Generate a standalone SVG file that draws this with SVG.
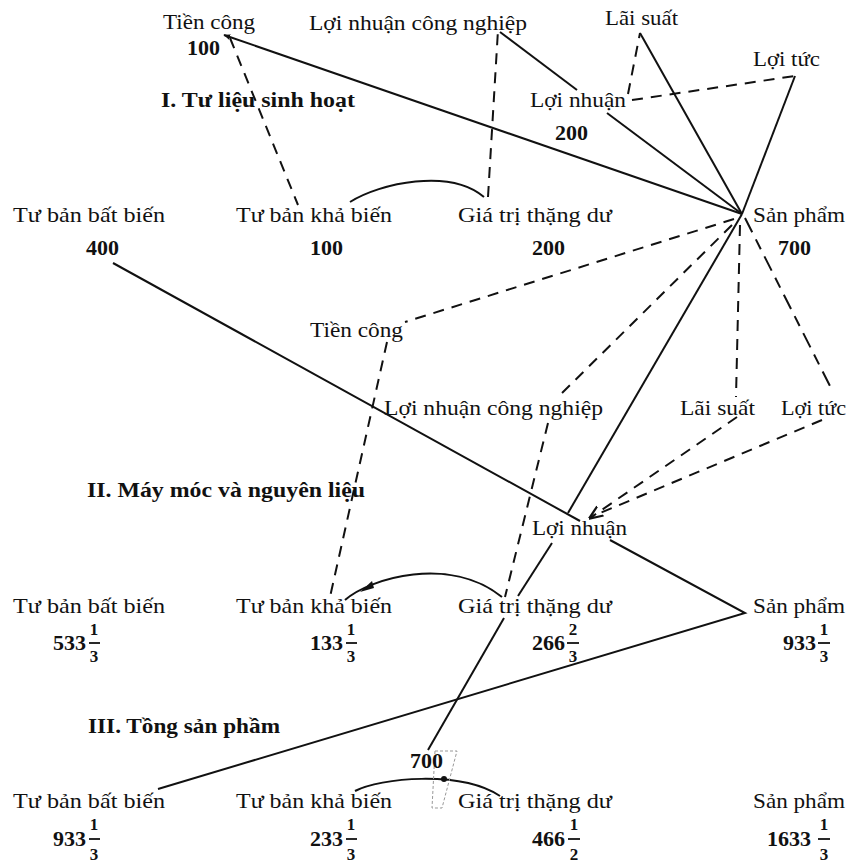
<svg xmlns="http://www.w3.org/2000/svg" width="847" height="867" viewBox="0 0 847 867">
<style>
  text { font-family: "Liberation Serif", "Times New Roman", serif; fill: #111; }
  .lbl { font-size: 22px; }
  .ttl { font-size: 22px; font-weight: bold; }
  .num { font-size: 22px; font-weight: bold; }
  .frac { font-size: 17px; font-weight: bold; text-anchor: middle; }
  .bar { stroke: #111; stroke-width: 1.8; }
  .ln { fill: none; stroke: #111; stroke-width: 2; }
  .dash { fill: none; stroke: #111; stroke-width: 2; stroke-dasharray: 11 8; }
</style>
<defs>
  <marker id="arr" viewBox="0 0 10 10" refX="9" refY="5" markerWidth="7" markerHeight="7" orient="auto" markerUnits="userSpaceOnUse">
    <path d="M0,1 L10,5 L0,9 z" fill="#111"/>
  </marker>
  <marker id="arr2" viewBox="0 0 10 10" refX="9" refY="5" markerWidth="14" markerHeight="14" orient="auto" markerUnits="userSpaceOnUse">
    <path d="M0,1 L10,5 L0,9" fill="none" stroke="#111" stroke-width="1.6"/>
  </marker>
</defs>
<rect width="847" height="867" fill="#fff"/>

<g id="connectors">
  <!-- Section I solid -->
  <path class="ln" d="M742,214 L224,35" marker-end="url(#arr)"/>
  <path class="ln" d="M500,32 L577,90"/>
  <path class="ln" d="M640,33 L742,214"/>
  <path class="ln" d="M795,76 L742,214"/>
  <path class="ln" d="M607,113 L742,214"/>
  <path class="ln" d="M350,202 C380,183 450,168 484,197"/>
  <!-- Section I dashed -->
  <path class="dash" d="M230,38 L298,205"/>
  <path class="dash" d="M488,197 L498,30"/>
  <path class="dash" d="M628,94 L640,33"/>
  <path class="dash" d="M632,100 L795,76"/>
  <!-- hub to section II -->
  <path class="dash" d="M734,219 L405,322"/>
  <path class="dash" d="M732,225 L557,398"/>
  <path class="ln" d="M742,214 L568,513"/>
  <path class="dash" d="M740,225 L736,397"/>
  <path class="dash" style="stroke-dasharray: 16 8 11 8" d="M745,218 L832,390"/>
  <!-- Section II -->
  <path class="ln" d="M113,263 L580,521"/>
  <path class="dash" d="M387,342 L330,597"/>
  <path class="dash" d="M548,423 L505,597"/>
  <path class="dash" d="M737,417 L590,518" marker-end="url(#arr2)"/>
  <path class="dash" d="M822,420 L593,516"/>
  <path class="ln" d="M345,600 C370,578 450,555 502,597"/>
  <polygon points="360,592 372,581 374,588" fill="#111"/>
  <path class="ln" d="M552,543 L518,596"/>
  <path class="ln" d="M504,618 L428,750"/>
  <path class="ln" d="M610,540 L745,613 L158,789"/>
  <!-- Section III -->
  <path class="ln" d="M355,791 C380,778 460,770 500,796"/>
  <path d="M435,751 L457,751 L442,808 L432,808 Z" fill="none" stroke="#999" stroke-width="1" stroke-dasharray="3 2"/>
  <circle cx="444" cy="779" r="3" fill="#111"/>
</g>

<!-- Section I -->
<g id="tien-cong-1">
  <text class="lbl" x="163" y="29" textLength="92" lengthAdjust="spacingAndGlyphs">Tiền công</text>
  <text class="num" x="187" y="55">100</text>
</g>
<g id="loi-nhuan-cong-nghiep-1">
  <text class="lbl" x="309" y="30" textLength="218" lengthAdjust="spacingAndGlyphs">Lợi nhuận công nghiệp</text>
</g>
<g id="lai-suat-1">
  <text class="lbl" x="605" y="25" textLength="73" lengthAdjust="spacingAndGlyphs">Lãi suất</text>
</g>
<g id="loi-tuc-1">
  <text class="lbl" x="753" y="66" textLength="67" lengthAdjust="spacingAndGlyphs">Lợi tức</text>
</g>
<g id="title-1">
  <text class="ttl" x="161" y="107" textLength="194" lengthAdjust="spacingAndGlyphs">I. Tư liệu sinh hoạt</text>
</g>
<g id="loi-nhuan-1">
  <text class="lbl" x="530" y="107" textLength="96" lengthAdjust="spacingAndGlyphs">Lợi nhuận</text>
  <text class="num" x="555" y="140">200</text>
</g>
<g id="tbbb-1">
  <text class="lbl" x="13" y="222" textLength="152" lengthAdjust="spacingAndGlyphs">Tư bản bất biến</text>
  <text class="num" x="86" y="255">400</text>
</g>
<g id="tbkb-1">
  <text class="lbl" x="236" y="222" textLength="156" lengthAdjust="spacingAndGlyphs">Tư bản khả biến</text>
  <text class="num" x="310" y="255">100</text>
</g>
<g id="gttd-1">
  <text class="lbl" x="458" y="222" textLength="154" lengthAdjust="spacingAndGlyphs">Giá trị thặng dư</text>
  <text class="num" x="532" y="255">200</text>
</g>
<g id="san-pham-1">
  <text class="lbl" x="753" y="222" textLength="92" lengthAdjust="spacingAndGlyphs">Sản phẩm</text>
  <text class="num" x="778" y="255">700</text>
</g>

<!-- Section II -->
<g id="tien-cong-2">
  <text class="lbl" x="310" y="337" textLength="93" lengthAdjust="spacingAndGlyphs">Tiền công</text>
</g>
<g id="loi-nhuan-cong-nghiep-2">
  <text class="lbl" x="384" y="415" textLength="219" lengthAdjust="spacingAndGlyphs">Lợi nhuận công nghiệp</text>
</g>
<g id="lai-suat-2">
  <text class="lbl" x="680" y="415" textLength="75" lengthAdjust="spacingAndGlyphs">Lãi suất</text>
</g>
<g id="loi-tuc-2">
  <text class="lbl" x="781" y="415" textLength="65" lengthAdjust="spacingAndGlyphs">Lợi tức</text>
</g>
<g id="title-2">
  <text class="ttl" x="87" y="497" textLength="278" lengthAdjust="spacingAndGlyphs">II. Máy móc và nguyên liệu</text>
</g>
<g id="loi-nhuan-2">
  <text class="lbl" x="532" y="535" textLength="95" lengthAdjust="spacingAndGlyphs">Lợi nhuận</text>
</g>
<g id="tbbb-2">
  <text class="lbl" x="13" y="613" textLength="152" lengthAdjust="spacingAndGlyphs">Tư bản bất biến</text>
  <text class="num" x="53" y="650">533</text>
  <text class="frac" x="94" y="635">1</text>
  <line class="bar" x1="89" y1="643" x2="100" y2="643"/>
  <text class="frac" x="94" y="662">3</text>
</g>
<g id="tbkb-2">
  <text class="lbl" x="236" y="613" textLength="156" lengthAdjust="spacingAndGlyphs">Tư bản khả biến</text>
  <text class="num" x="310" y="650">133</text>
  <text class="frac" x="351" y="635">1</text>
  <line class="bar" x1="346" y1="643" x2="357" y2="643"/>
  <text class="frac" x="351" y="662">3</text>
</g>
<g id="gttd-2">
  <text class="lbl" x="458" y="613" textLength="154" lengthAdjust="spacingAndGlyphs">Giá trị thặng dư</text>
  <text class="num" x="532" y="650">266</text>
  <text class="frac" x="573" y="635">2</text>
  <line class="bar" x1="567" y1="643" x2="579" y2="643"/>
  <text class="frac" x="573" y="662">3</text>
</g>
<g id="san-pham-2">
  <text class="lbl" x="753" y="613" textLength="92" lengthAdjust="spacingAndGlyphs">Sản phẩm</text>
  <text class="num" x="783" y="650">933</text>
  <text class="frac" x="824" y="635">1</text>
  <line class="bar" x1="818" y1="643" x2="830" y2="643"/>
  <text class="frac" x="824" y="662">3</text>
</g>

<!-- Section III -->
<g id="title-3">
  <text class="ttl" x="88" y="733" textLength="192" lengthAdjust="spacingAndGlyphs">III. Tồng sản phầm</text>
</g>
<g id="value-700">
  <text class="num" x="410" y="768">700</text>
</g>
<g id="tbbb-3">
  <text class="lbl" x="13" y="808" textLength="152" lengthAdjust="spacingAndGlyphs">Tư bản bất biến</text>
  <text class="num" x="53" y="846">933</text>
  <text class="frac" x="94" y="830">1</text>
  <line class="bar" x1="89" y1="839" x2="100" y2="839"/>
  <text class="frac" x="94" y="860">3</text>
</g>
<g id="tbkb-3">
  <text class="lbl" x="236" y="808" textLength="156" lengthAdjust="spacingAndGlyphs">Tư bản khả biến</text>
  <text class="num" x="310" y="846">233</text>
  <text class="frac" x="351" y="830">1</text>
  <line class="bar" x1="346" y1="839" x2="357" y2="839"/>
  <text class="frac" x="351" y="860">3</text>
</g>
<g id="gttd-3">
  <text class="lbl" x="458" y="808" textLength="154" lengthAdjust="spacingAndGlyphs">Giá trị thặng dư</text>
  <text class="num" x="532" y="846">466</text>
  <text class="frac" x="574" y="830">1</text>
  <line class="bar" x1="568" y1="839" x2="580" y2="839"/>
  <text class="frac" x="574" y="860">2</text>
</g>
<g id="san-pham-3">
  <text class="lbl" x="753" y="808" textLength="92" lengthAdjust="spacingAndGlyphs">Sản phẩm</text>
  <text class="num" x="767" y="846">1633</text>
  <text class="frac" x="824" y="830">1</text>
  <line class="bar" x1="818" y1="839" x2="830" y2="839"/>
  <text class="frac" x="824" y="860">3</text>
</g>
</svg>
